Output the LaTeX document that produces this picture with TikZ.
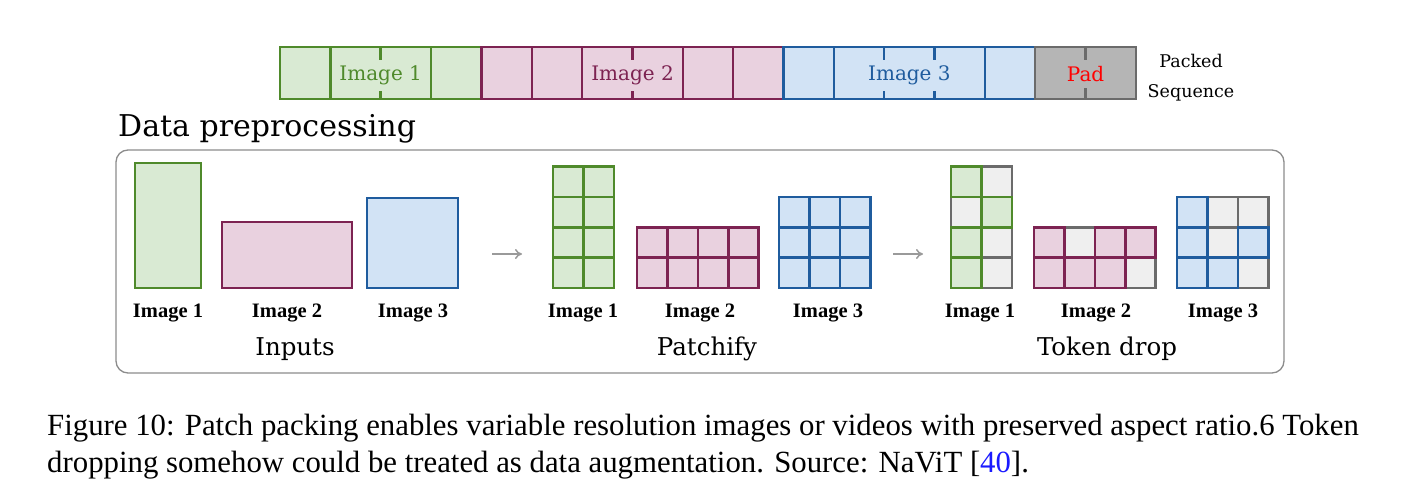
\documentclass[tikz,border=0pt]{standalone}
\usepackage{fontspec}
\usetikzlibrary{arrows.meta}
\setmainfont{DejaVu Serif}
\newfontfamily\timesfont{Liberation Serif}
\definecolor{greenfill}{HTML}{D9EAD3}
\definecolor{greenline}{HTML}{4F8A2B}
\definecolor{pinkfill}{HTML}{E9D1DF}
\definecolor{pinkline}{HTML}{7D2352}
\definecolor{bluefill}{HTML}{D2E3F5}
\definecolor{blueline}{HTML}{1F5C9E}
\definecolor{dropfill}{HTML}{EFEFEF}
\definecolor{dropline}{HTML}{6B6B6B}
\definecolor{padfill}{HTML}{B5B5B5}
\definecolor{framegray}{HTML}{8C8C8C}
\definecolor{arrowgray}{HTML}{9A9A9A}
\definecolor{citeblue}{HTML}{1A1AFF}
\tikzset{
  cell/.style={draw, line width=2.6pt, minimum width=30.4pt, minimum height=30.4pt, inner sep=0pt},
  gcell/.style={cell, draw=greenline, fill=greenfill},
  pcell/.style={cell, draw=pinkline, fill=pinkfill},
  bcell/.style={cell, draw=blueline, fill=bluefill},
  xcell/.style={cell, draw=dropline, fill=dropfill},
  seqcell/.style={draw, line width=2.4pt, minimum width=50.35pt, minimum height=52pt, inner sep=0pt},
  sgcell/.style={seqcell, draw=greenline, fill=greenfill},
  spcell/.style={seqcell, draw=pinkline, fill=pinkfill},
  sbcell/.style={seqcell, draw=blueline, fill=bluefill},
  padcell/.style={seqcell, draw=dropline, fill=padfill},
  seqtext/.style={font=\fontsize{20}{24}\selectfont, anchor=base, inner xsep=3pt, inner ysep=6pt},
  imglabel/.style={font=\timesfont\bfseries\fontsize{20.5}{24}\selectfont, anchor=base},
  stage/.style={font=\fontsize{24.5}{30}\selectfont, anchor=base},
  flow/.style={draw=arrowgray, line width=1.5pt, -{To[length=7pt,width=10pt]}}
}
\begin{document}
\begin{tikzpicture}[x=1pt, y=-1pt]
\useasboundingbox (0,0) rectangle (1428,501);
% packed sequence
\node[sgcell] (s0) at (305.2,73){};
\node[sgcell] (s1) at (355.5,73){};
\node[sgcell] (s2) at (405.9,73){};
\node[sgcell] (s3) at (456.2,73){};
\node[spcell] (s4) at (506.6,73){};
\node[spcell] (s5) at (556.9,73){};
\node[spcell] (s6) at (607.3,73){};
\node[spcell] (s7) at (657.6,73){};
\node[spcell] (s8) at (708.0,73){};
\node[spcell] (s9) at (758.3,73){};
\node[sbcell] (s10) at (808.7,73){};
\node[sbcell] (s11) at (859.0,73){};
\node[sbcell] (s12) at (909.4,73){};
\node[sbcell] (s13) at (959.7,73){};
\node[sbcell] (s14) at (1010.1,73){};
\node[padcell] (s15) at (1060.4,73){};
\node[padcell] (s16) at (1110.8,73){};
\node[seqtext, fill=greenfill, text=greenline] (seqimg1) at (380.7,80.5){Image 1};
\node[seqtext, fill=pinkfill, text=pinkline] (seqimg2) at (632.5,80.5){Image 2};
\node[seqtext, fill=bluefill, text=blueline] (seqimg3) at (909.4,80.5){Image 3};
\node[seqtext, fill=padfill, text=red] (seqpad) at (1085.6,81.5){Pad};
\node[font=\fontsize{17.5}{30}\selectfont, align=center, anchor=base] (packed) at (1191,97){Packed\\Sequence};
% data preprocessing
\node[font=\fontsize{30}{36}\selectfont, anchor=base west, inner sep=0pt] (title) at (118,136){Data preprocessing};
\node[draw=framegray, line width=1.3pt, rounded corners=12pt, minimum width=1168pt, minimum height=223pt] (prep) at (700,261.5){};
% inputs
\node[draw=greenline, fill=greenfill, line width=2.6pt, minimum width=66pt, minimum height=125pt] (in1) at (168,225.5){};
\node[draw=pinkline, fill=pinkfill, line width=2.6pt, minimum width=130pt, minimum height=66pt] (in2) at (287,255){};
\node[draw=blueline, fill=bluefill, line width=2.6pt, minimum width=91pt, minimum height=90pt] (in3) at (412.5,243){};
\node[imglabel] (inlab1) at (168,317){Image 1};
\node[imglabel] (inlab2) at (287,317){Image 2};
\node[imglabel] (inlab3) at (413,317){Image 3};
\node[stage] (inputs) at (295,355){Inputs};
\coordinate (arr1s) at (492,254);
\coordinate (arr1e) at (522,254);
\draw[flow] (arr1s) -- (arr1e);
% patchify
\node[gcell] (pa11) at (568.2,181.6){};
\node[gcell] (pa12) at (598.6,181.6){};
\node[gcell] (pa21) at (568.2,212.0){};
\node[gcell] (pa22) at (598.6,212.0){};
\node[gcell] (pa31) at (568.2,242.4){};
\node[gcell] (pa32) at (598.6,242.4){};
\node[gcell] (pa41) at (568.2,272.8){};
\node[gcell] (pa42) at (598.6,272.8){};
\node[pcell] (pb11) at (652.2,242.4){};
\node[pcell] (pb12) at (682.6,242.4){};
\node[pcell] (pb13) at (713.0,242.4){};
\node[pcell] (pb14) at (743.4,242.4){};
\node[pcell] (pb21) at (652.2,272.8){};
\node[pcell] (pb22) at (682.6,272.8){};
\node[pcell] (pb23) at (713.0,272.8){};
\node[pcell] (pb24) at (743.4,272.8){};
\node[bcell] (pc11) at (794.2,212.0){};
\node[bcell] (pc12) at (824.6,212.0){};
\node[bcell] (pc13) at (855.0,212.0){};
\node[bcell] (pc21) at (794.2,242.4){};
\node[bcell] (pc22) at (824.6,242.4){};
\node[bcell] (pc23) at (855.0,242.4){};
\node[bcell] (pc31) at (794.2,272.8){};
\node[bcell] (pc32) at (824.6,272.8){};
\node[bcell] (pc33) at (855.0,272.8){};
\node[imglabel] (palab1) at (583,317){Image 1};
\node[imglabel] (palab2) at (700,317){Image 2};
\node[imglabel] (palab3) at (828,317){Image 3};
\node[stage] (patchify) at (707,355){Patchify};
\coordinate (arr2s) at (893,254);
\coordinate (arr2e) at (923,254);
\draw[flow] (arr2s) -- (arr2e);
% token drop, dropped cells first
\node[xcell] (ta12) at (996.6,181.6){};
\node[xcell] (ta21) at (966.2,212.0){};
\node[xcell] (ta32) at (996.6,242.4){};
\node[xcell] (ta42) at (996.6,272.8){};
\node[gcell] (ta11) at (966.2,181.6){};
\node[gcell] (ta22) at (996.6,212.0){};
\node[gcell] (ta31) at (966.2,242.4){};
\node[gcell] (ta41) at (966.2,272.8){};
\node[xcell] (tb12) at (1079.6,242.4){};
\node[xcell] (tb24) at (1140.4,272.8){};
\node[pcell] (tb11) at (1049.2,242.4){};
\node[pcell] (tb13) at (1110.0,242.4){};
\node[pcell] (tb14) at (1140.4,242.4){};
\node[pcell] (tb21) at (1049.2,272.8){};
\node[pcell] (tb22) at (1079.6,272.8){};
\node[pcell] (tb23) at (1110.0,272.8){};
\node[xcell] (tc12) at (1222.6,212.0){};
\node[xcell] (tc13) at (1253.0,212.0){};
\node[xcell] (tc22) at (1222.6,242.4){};
\node[xcell] (tc33) at (1253.0,272.8){};
\node[bcell] (tc11) at (1192.2,212.0){};
\node[bcell] (tc21) at (1192.2,242.4){};
\node[bcell] (tc23) at (1253.0,242.4){};
\node[bcell] (tc31) at (1192.2,272.8){};
\node[bcell] (tc32) at (1222.6,272.8){};
\node[imglabel] (talab1) at (980,317){Image 1};
\node[imglabel] (talab2) at (1096,317){Image 2};
\node[imglabel] (talab3) at (1223,317){Image 3};
\node[stage] (tokendrop) at (1107,355){Token drop};
% caption
\node[font=\timesfont\fontsize{30.8}{37}\selectfont, align=left, anchor=base west, inner sep=0pt] (caption) at (47,472){Figure 10: Patch packing enables variable resolution images or videos with preserved aspect ratio.6 Token\\dropping somehow could be treated as data augmentation. Source: NaViT [\textcolor{citeblue}{40}].};
\end{tikzpicture}
\end{document}
